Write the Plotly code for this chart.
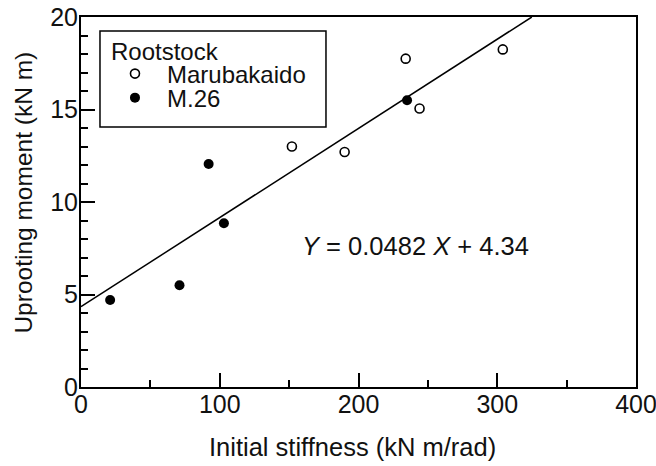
import plotly.graph_objects as go

# Data
maru_x = [152, 190, 234, 244, 304]
maru_y = [13.0, 12.7, 17.75, 15.05, 18.25]
m26_x = [21, 71, 92, 103, 235]
m26_y = [4.7, 5.5, 12.05, 8.85, 15.5]
slope = 0.0482
intercept = 4.34
x_range = [0, 400]
y_range = [0, 20]
x_ticks = [0, 100, 200, 300, 400]
y_ticks = [0, 5, 10, 15, 20]
x_title = "Initial stiffness (kN m/rad)"
y_title = "Uprooting moment (kN m)"
legend_title = "Rootstock"

FONT = "Liberation Sans, Arial, sans-serif"
TXT = 25.5
LEG = 24
TICK = 25
INK = "#111"

x_end = (y_range[1] - intercept) / slope
line_x = [0, x_end]
line_y = [intercept + slope * v for v in line_x]

fig = go.Figure()
# regression line drawn on the overlay axes (same ranges) that carry the tick labels
fig.add_trace(go.Scatter(x=line_x, y=line_y, mode="lines", xaxis="x2", yaxis="y2",
                         line=dict(color="black", width=1.5),
                         showlegend=False, hoverinfo="skip"))
fig.add_trace(go.Scatter(x=maru_x, y=maru_y, mode="markers", name="Marubakaido",
                         legend="legend",
                         marker=dict(symbol="circle-open", size=9, color="black",
                                     line=dict(width=1.6, color="black"))))
fig.add_trace(go.Scatter(x=m26_x, y=m26_y, mode="markers", name="M.26",
                         legend="legend2",
                         marker=dict(symbol="circle", size=10, color="black")))

fig.add_annotation(x=158, y=7.6, xref="x", yref="y", xanchor="left", yanchor="middle",
                   text="<i>Y</i> = %.4f <i>X</i> + %.2f" % (slope, intercept),
                   showarrow=False, font=dict(size=TXT, color=INK, family=FONT))

# axis titles
fig.add_annotation(x=0.490, y=-0.163, xref="paper", yref="paper",
                   xanchor="center", yanchor="middle", text=x_title,
                   showarrow=False, font=dict(size=TXT, color=INK, family=FONT))
fig.add_annotation(x=-0.103, y=0.525, xref="paper", yref="paper",
                   xanchor="center", yanchor="middle", text=y_title, textangle=-90,
                   showarrow=False, font=dict(size=24.5, color=INK, family=FONT))

# legend frame and title (paper coords of the plot area)
fig.add_shape(type="rect", xref="paper", yref="paper",
              x0=0.0342, x1=0.4414, y0=0.7025, y1=0.962,
              line=dict(color="black", width=1.5), fillcolor="rgba(0,0,0,0)")
fig.add_annotation(x=0.0505, y=0.906, xref="paper", yref="paper",
                   xanchor="left", yanchor="middle", text=legend_title,
                   showarrow=False, font=dict(size=LEG, color=INK, family=FONT))

leg_common = dict(xanchor="left", yanchor="middle", bgcolor="rgba(0,0,0,0)",
                  borderwidth=0, itemwidth=54, font=dict(size=LEG, color=INK, family=FONT))

fig.update_layout(
    width=656, height=466,
    margin=dict(l=81, r=20, t=17, b=79, autoexpand=False),
    plot_bgcolor="white", paper_bgcolor="white",
    font=dict(family=FONT, size=TXT, color=INK),
    legend=dict(x=0.0396, y=0.846, **leg_common),
    legend2=dict(x=0.0396, y=0.781, **leg_common),
    showlegend=True,
    xaxis2=dict(overlaying="x", anchor="free", position=0, side="bottom",
                range=x_range, tickvals=x_ticks, automargin=False,
                showline=False, ticks="", showgrid=False, zeroline=False,
                ticklabeloverflow="allow", tickfont=dict(size=TICK, color=INK)),
    yaxis2=dict(overlaying="y", anchor="free", position=0, side="left",
                range=y_range, tickvals=y_ticks, automargin=False,
                showline=False, ticks="", showgrid=False, zeroline=False,
                ticklabelstandoff=3,
                ticklabeloverflow="allow", tickfont=dict(size=TICK, color=INK)),
)
fig.layout.xaxis.update(range=x_range, tickvals=x_ticks, automargin=False, showticklabels=False,
                        ticks="inside", ticklen=14, tickwidth=1.5, tickcolor="black",
                        minor=dict(ticks="inside", ticklen=7, tickwidth=1.5, tickcolor="black", dtick=50),
                        showline=True, linecolor="black", linewidth=1.5, mirror=True,
                        showgrid=False, zeroline=False)
fig.layout.yaxis.update(range=y_range, tickvals=y_ticks, automargin=False, showticklabels=False,
                        ticks="inside", ticklen=14, tickwidth=1.5, tickcolor="black",
                        minor=dict(ticks="inside", ticklen=7, tickwidth=1.5, tickcolor="black", dtick=1),
                        showline=True, linecolor="black", linewidth=1.5, mirror=True,
                        showgrid=False, zeroline=False)

fig.write_html("out.html")
